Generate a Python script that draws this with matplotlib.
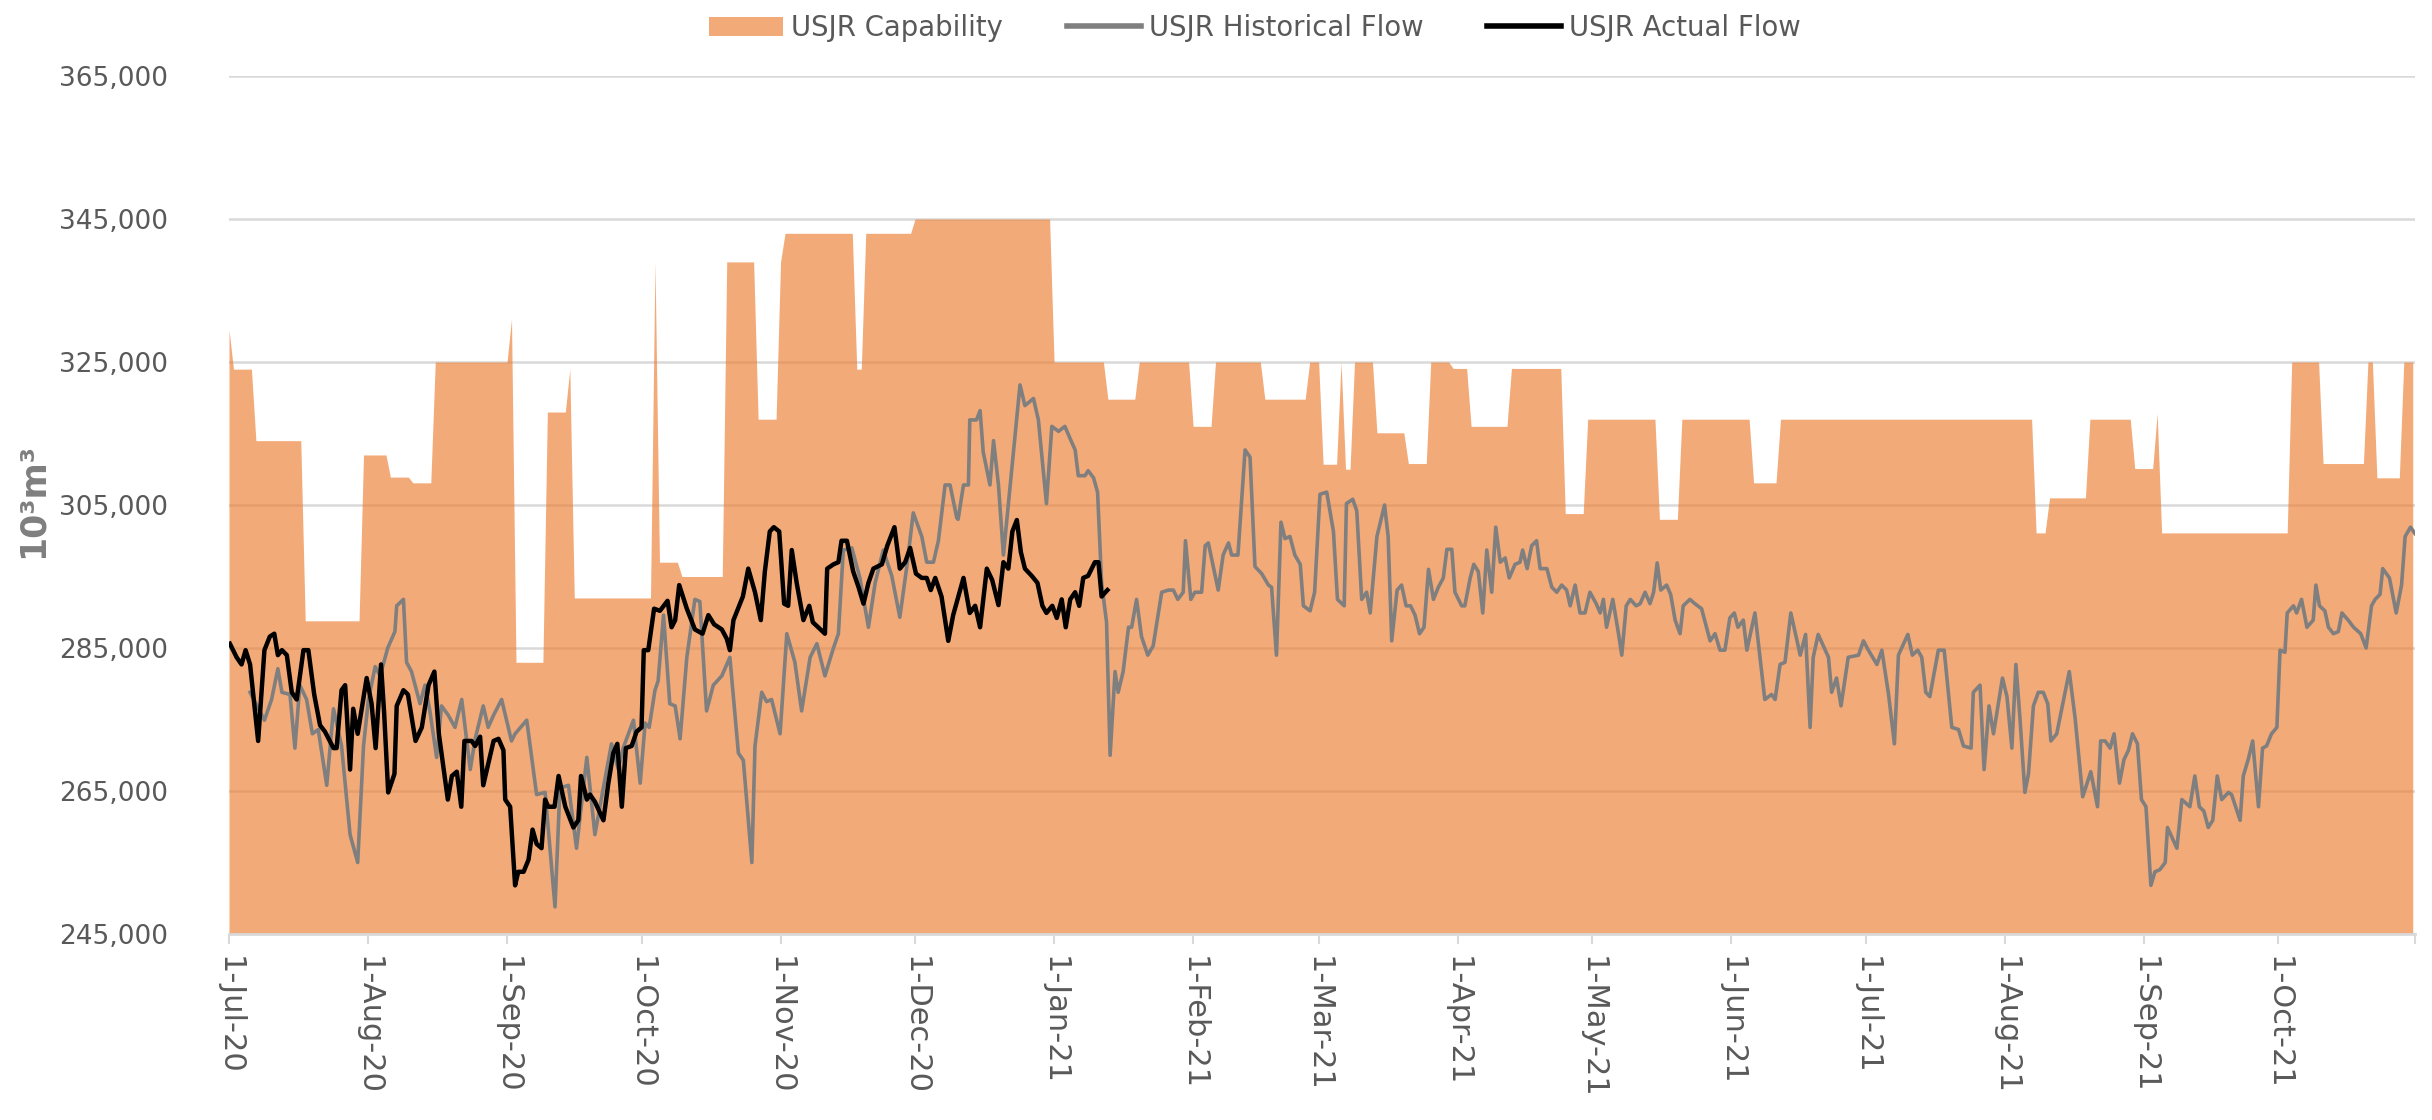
import numpy as np
import pandas as pd
import matplotlib
matplotlib.use('Agg')
import matplotlib.pyplot as plt
import matplotlib.dates as mdates
from matplotlib.ticker import FuncFormatter
from matplotlib.patches import Patch
from matplotlib.lines import Line2D

plt.rcParams['font.family'] = ['DejaVu Sans']

# all series are given as day offsets from 1-Jul-20, values in 10^3 m^3
start = pd.Timestamp('2020-07-01')
n_days = 487.5

cap_days = [0, 1, 5, 6, 16, 17, 29, 30, 35, 36, 40, 41, 45, 46, 62, 63, 64, 70, 71, 75,
            76, 77, 94, 95, 96, 100, 101, 110, 111, 117, 118, 122, 123, 124, 139, 140, 141, 142, 152, 153,
            183, 184, 195, 196, 202, 203, 214, 215, 219, 220, 230, 231, 240, 241, 243, 244, 247, 248, 249, 250,
            251, 255, 256, 262, 263, 267, 268, 272, 273, 276, 277, 285, 286, 297, 298, 302, 303, 318, 319, 323,
            324, 339, 340, 345, 346, 402, 403, 405, 406, 414, 415, 424, 425, 429, 430, 431, 459, 460, 466, 467,
            476, 477, 478, 479, 484, 485, 487]
cap_vals = [329500, 324000, 324000, 314000, 314000, 288800, 288800, 312000, 312000, 308900,
            308900, 308100, 308100, 325000, 325000, 331000, 283000, 283000, 318000, 318000,
            324000, 292000, 292000, 339000, 297000, 297000, 295000, 295000, 339000, 339000,
            317000, 317000, 339000, 343000, 343000, 324000, 324000, 343000, 343000, 345000,
            345000, 325000, 325000, 319800, 319800, 325000, 325000, 316000, 316000, 325000,
            325000, 319800, 319800, 325000, 325000, 310700, 310700, 325000, 310000, 310000,
            325000, 325000, 315100, 315100, 310800, 310800, 325000, 325000, 324100, 324100,
            316000, 316000, 324100, 324100, 303800, 303800, 317000, 317000, 303000, 303000,
            317000, 317000, 308100, 308100, 317000, 317000, 301100, 301100, 306000, 306000,
            317000, 317000, 310100, 310100, 317800, 301100, 301100, 325000, 325000, 310800,
            310800, 325000, 325000, 308800, 308800, 325000, 325000]

hist_days = [4.7, 7.9, 9.5, 10.9, 11.8, 13.6, 14.7, 15.8, 17.3, 18.6, 19.9, 21.8, 23.3, 25.1, 27.0,
             28.7, 30.0, 31.1, 32.6, 33.7, 35.4, 37.0, 37.4, 38.9, 39.6, 40.7, 42.6, 43.7, 44.8, 46.3,
             47.4, 48.9, 50.4, 51.9, 53.8, 54.9, 56.7, 57.8, 59.0, 60.8, 63.0, 63.8, 66.4, 68.6, 70.5,
             72.7, 73.8, 75.7, 77.5, 79.8, 81.6, 83.5, 85.3, 86.8, 87.9, 90.2, 91.7, 92.8, 93.7, 95.0,
             95.7, 96.9, 98.3, 99.5, 100.6, 102.1, 103.9, 105.0, 106.5, 108.0, 109.9, 111.7, 113.6, 114.7, 116.6,
             117.3, 118.8, 119.9, 121.0, 122.9, 124.4, 126.2, 127.7, 129.6, 131.1, 132.9, 134.8, 135.9, 137.0,
             138.9, 140.7, 142.6, 144.1, 145.9, 147.8, 149.6, 151.1, 152.6, 154.5, 155.6, 157.1, 158.2, 159.7,
             160.8, 162.3, 162.6, 163.8, 164.9, 165.2, 166.7, 167.5, 168.2, 169.7, 170.5, 171.6, 172.7, 176.4,
             177.5, 179.4, 180.5, 182.3, 183.5, 185.0, 186.4, 187.5, 188.7, 189.4, 190.9, 191.6, 192.8, 193.7,
             194.6, 195.7, 196.5, 197.6, 198.3, 199.4, 200.6, 201.3, 202.4, 203.5, 204.9, 206.1, 208.0, 209.5,
             210.6, 211.6, 212.8, 213.3, 214.5, 215.4, 216.9, 217.7, 218.4, 220.6, 221.7, 222.9, 223.6, 225.0,
             226.6, 227.7, 228.8, 230.3, 231.8, 232.5, 233.6, 234.6, 235.5, 236.6, 237.7, 238.9, 239.6, 241.1,
             242.1, 243.3, 244.8, 246.3, 247.2, 248.7, 249.2, 250.6, 251.5, 252.6, 253.7, 254.5, 256.0, 257.7,
             258.5, 259.3, 260.5, 261.5, 262.5, 263.5, 264.5, 265.5, 266.5, 267.5, 268.6, 269.7, 270.8, 271.6,
             272.7, 273.4, 274.9, 275.6, 276.8, 277.6, 278.6, 279.6, 280.5, 281.6, 282.5, 283.5, 284.6, 285.5,
             286.8, 287.9, 288.5, 289.5, 290.5, 291.6, 292.4, 293.9, 295.0, 296.1, 297.2, 298.3, 299.1, 300.2,
             301.3, 302.4, 303.5, 304.9, 305.8, 306.5, 307.2, 308.6, 309.8, 310.6, 311.6, 312.5, 313.8, 314.7,
             315.8, 316.9, 317.7, 318.5, 319.3, 320.6, 321.5, 322.5, 323.6, 324.3, 325.8, 326.9, 328.4, 330.3,
             331.4, 332.5, 333.6, 334.7, 335.7, 336.5, 337.7, 338.5, 340.3, 342.5, 344.0, 344.8, 345.9, 347.0,
             348.3, 350.4, 351.6, 352.6, 353.3, 354.4, 356.7, 357.4, 358.5, 359.5, 361.1, 363.4, 364.5, 365.6,
             367.5, 368.6, 370.1, 371.4, 372.3, 374.4, 375.4, 376.6, 377.5, 378.4, 379.3, 381.2, 382.5, 384.2,
             385.7, 386.8, 388.5, 389.0, 390.5, 391.4, 392.5, 393.5, 395.5, 396.5, 397.6, 398.5, 399.4, 400.5,
             401.3, 402.4, 403.5, 404.6, 405.6, 406.3, 407.6, 410.4, 411.7, 413.4, 415.2, 416.7, 417.4, 418.4,
             419.5, 420.4, 421.6, 422.6, 423.6, 424.5, 425.6, 426.5, 427.5, 428.6, 429.5, 430.6, 431.8, 432.3,
             434.4, 435.5, 437.3, 438.4, 439.4, 440.4, 441.4, 442.4, 443.4, 444.4, 445.9, 446.6, 448.5, 449.2,
             450.3, 451.3, 452.6, 453.5, 454.4, 455.5, 456.7, 457.4, 458.5, 459.0, 460.4, 461.1, 462.2, 463.4,
             464.8, 465.4, 466.2, 467.4, 468.2, 469.3, 470.4, 471.2, 472.6, 473.8, 475.4, 476.6, 477.8, 478.6,
             479.7, 480.3, 481.8, 483.3, 484.5, 485.3, 486.5, 487.5]
hist_vals = [278800, 274900, 277800, 282100, 278800, 278500, 271000, 279800, 277800, 273000, 273600, 265800, 276500, 271300, 258900,
             255000, 271300, 277800, 282400, 281100, 285000, 287300, 290900, 291800, 283000, 281700, 277200, 279800, 276200, 269700,
             276900, 275600, 273900, 277800, 268000, 272300, 276900, 273900, 275600, 277800, 272000, 273000, 274900, 264500, 264800,
             248800, 265400, 265800, 257000, 269700, 258900, 265500, 271600, 268100, 271000, 274900, 266100, 274500, 273900, 279100,
             280400, 289600, 277200, 276900, 272300, 283700, 291800, 291500, 276200, 279800, 281100, 283700, 270300, 269300, 255000,
             271300, 278800, 277500, 277800, 273000, 287000, 283000, 276200, 283700, 285600, 281100, 285000, 287000, 298700,
             299000, 294800, 287900, 294100, 298700, 295100, 289300, 296100, 303900, 300600, 297000, 297000, 300000, 307800,
             307800, 303200, 303000, 307800, 307800, 316900, 316900, 318200, 312400, 307800, 314000, 307800, 298000, 321800,
             318900, 319900, 316900, 305200, 316000, 315300, 316000, 314400, 312700, 309100, 309100, 309800, 308800, 306800,
             294100, 288600, 270000, 281700, 278800, 281700, 287900, 287900, 291800, 286600, 284000, 285300, 292800, 293100,
             293100, 291800, 292800, 300000, 291800, 292800, 292800, 299300, 299700, 293100, 298000, 299700, 298000, 298000,
             312700, 311700, 296400, 295400, 293800, 293500, 284000, 302600, 300300, 300600, 298000, 296700, 290900, 290200,
             292800, 306500, 306800, 301300, 291800, 290900, 305200, 305800, 304200, 291800, 292800, 289900, 300600, 305000,
             300600, 286000, 293100, 293800, 290900, 290900, 289600, 287000, 287900, 296000, 291800, 293500, 294800, 298800,
             298800, 292800, 290900, 290900, 294800, 296700, 295700, 289900, 298700, 292800, 301900, 297000, 297600, 294800,
             296700, 297000, 298700, 296100, 299300, 300000, 296100, 296100, 293500, 292800, 293800, 293100, 290900, 293800,
             289900, 289900, 292800, 291200, 289900, 291800, 287900, 291800, 287300, 284000, 290900, 291800, 290900, 291200,
             292800, 291200, 292800, 296900, 293100, 293800, 292500, 288900, 287000, 290900, 291800, 291200, 290500, 286000,
             287000, 284700, 284700, 289200, 289900, 287900, 288900, 284700, 289900, 277800, 278500, 277800, 282700, 283000,
             289900, 284000, 286900, 273900, 283700, 286900, 283700, 278800, 280800, 276900, 283700, 284000, 286000, 284700,
             282700, 284700, 278500, 271600, 284000, 286900, 284000, 284700, 283700, 278800, 278200, 284700, 284700, 273900,
             273600, 271300, 271000, 278800, 279800, 268000, 276900, 273000, 280800, 278200, 271000, 282700, 275200, 264800,
             267400, 276900, 278800, 278800, 277200, 272000, 273000, 281700, 275200, 264200, 267700, 262800, 272000, 272000,
             271000, 273000, 266100, 269400, 270700, 273000, 271600, 263800, 262800, 251800, 253700, 254000, 255000, 259900,
             257000, 263800, 262800, 267100, 262800, 262200, 259900, 260900, 267100, 263800, 264800, 264500, 260900, 267100,
             269400, 272000, 262800, 271000, 271300, 273000, 273900, 284700, 284400, 289900, 290900, 289900, 291800, 287900,
             288900, 293800, 290900, 290200, 287900, 287000, 287300, 289900, 288900, 287900, 287000, 285000, 290900, 291800,
             292500, 296100, 294800, 289900, 293800, 300600, 301900, 301000]

act_days = [0.2, 1.7, 2.8, 3.7, 4.7, 5.4, 6.5, 7.9, 9.1, 10.1, 10.9, 11.8, 12.9, 14.0, 15.1,
            16.6, 17.7, 19.0, 20.3, 21.4, 23.3, 24.0, 25.1, 25.9, 27.0, 27.7, 28.7, 30.7, 31.8, 32.7,
            33.9, 34.6, 35.5, 36.9, 37.4, 38.9, 39.9, 41.6, 43.0, 44.5, 45.8, 46.8, 48.8, 49.7, 50.8,
            51.8, 52.5, 54.1, 54.9, 56.0, 56.7, 59.0, 60.1, 61.2, 61.6, 62.7, 63.8, 64.5, 65.7, 66.8,
            67.7, 68.6, 69.7, 70.5, 71.2, 72.6, 73.5, 75.0, 76.8, 77.9, 78.5, 79.8, 80.5, 81.6, 83.5,
            84.6, 85.7, 86.6, 87.6, 88.5, 89.8, 90.9, 92.0, 92.5, 93.5, 94.8, 96.1, 97.8, 98.7, 99.5,
            100.4, 102.1, 103.9, 105.6, 106.9, 108.2, 109.9, 111.0, 111.7, 112.5, 114.6, 115.8, 117.3, 118.6, 119.5,
            120.6, 121.5, 122.7, 123.8, 124.7, 125.5, 126.6, 128.1, 129.4, 130.2, 131.4, 132.9, 133.4, 134.8, 135.9,
            136.6, 137.8, 139.2, 140.4, 141.5, 142.6, 143.7, 145.6, 146.8, 148.4, 149.6, 150.8, 151.9, 153.2, 154.5,
            155.6, 156.5, 157.5, 158.9, 160.4, 161.5, 163.8, 165.2, 166.4, 167.5, 169.0, 170.2, 171.6, 172.7, 173.8,
            174.7, 175.7, 176.6, 177.5, 179.0, 180.3, 181.4, 182.3, 183.6, 184.6, 185.7, 186.6, 187.6, 188.7, 189.6,
            190.5, 191.6, 193.1, 193.9, 194.6, 195.9]
act_vals = [285600, 283700, 282700, 284700, 282700, 278500, 272000, 284700, 286600, 287000, 284000, 284700, 284000, 278800, 277800,
            284700, 284700, 278500, 274200, 273300, 271000, 271000, 279100, 279800, 268000, 276500, 273000, 280800, 277200, 271000,
            282700, 275900, 264800, 267400, 276900, 279100, 278500, 272000, 273900, 279800, 281700, 273000, 263800, 267100, 267700,
            262800, 272000, 272000, 271300, 272600, 265800, 272000, 272300, 270700, 263800, 262800, 251800, 253700, 253700, 255400,
            259600, 257600, 257000, 263800, 262800, 262800, 267100, 262800, 259900, 260900, 267100, 263800, 264500, 263500, 260900,
            266100, 270300, 271600, 262800, 271000, 271300, 273300, 273900, 284700, 284700, 290500, 290200, 291600, 287900, 288900,
            293800, 290500, 287600, 287000, 289600, 288300, 287600, 286300, 284700, 288900, 292200, 296100, 292800, 288900, 295700,
            301300, 301900, 301300, 291200, 290900, 298700, 294100, 288900, 290900, 288600, 287900, 287000, 296100, 296700, 297000,
            300000, 300000, 295700, 293500, 291200, 294100, 296100, 296700, 299300, 301900, 296100, 297000, 299000, 295400, 294800,
            294800, 293100, 294800, 292200, 286000, 289600, 294800, 289900, 290900, 287900, 296100, 294500, 291000, 297000, 296100,
            301300, 302900, 298400, 296100, 295100, 294100, 290900, 289900, 290900, 289200, 291800, 287900, 291800, 292800, 290900,
            294800, 295100, 297000, 297000, 292200, 293100]

legend_labels = ['USJR Capability', 'USJR Historical Flow', 'USJR Actual Flow']
y_ticks = [245000, 265000, 285000, 305000, 325000, 345000, 365000]


def to_dates(days):
    return start + pd.to_timedelta(np.array(days), unit='D')


orange = '#ED7D31'
text_col = '#595959'
grid_col = '#D9D9D9'

W, H = 2432, 1120
fig = plt.figure(figsize=(W / 100, H / 100), dpi=100)
ax = fig.add_axes([229 / W, 1 - 934 / H, (2415 - 229) / W, (934 - 76) / H])

ax.fill_between(to_dates(cap_days), cap_vals, y_ticks[0], color=orange, alpha=0.65, lw=0, zorder=1)
ax.plot(to_dates(hist_days), hist_vals, color='#7F7F7F', lw=2.6, solid_joinstyle='round', zorder=2)
ax.plot(to_dates(act_days), act_vals, color='black', lw=3.2, solid_joinstyle='round', zorder=3)

x_end = start + pd.Timedelta(days=n_days)
ax.set_xlim(start, x_end)
ax.set_ylim(y_ticks[0], y_ticks[-1])
ax.set_yticks(y_ticks)
ax.yaxis.set_major_formatter(FuncFormatter(lambda v, p: '{:,}'.format(int(v))))

ax.xaxis.set_major_locator(mdates.MonthLocator())
ax.xaxis.set_major_formatter(FuncFormatter(
    lambda v, p: '{}-{}'.format(mdates.num2date(v).day, mdates.num2date(v).strftime('%b-%y'))))
ax.set_xticks([mdates.date2num(x_end)], minor=True)

ax.set_axisbelow(True)
ax.yaxis.grid(True, color=grid_col, lw=1.8)
for s in ['top', 'right', 'left']:
    ax.spines[s].set_visible(False)
ax.spines['bottom'].set_color(grid_col)
ax.spines['bottom'].set_linewidth(2)

ax.tick_params(axis='x', which='both', direction='out', length=7, width=1.5, color=grid_col,
               pad=9, labelsize=22, labelcolor=text_col, labelrotation=270)
ax.tick_params(axis='y', length=0, pad=44, labelsize=19, labelcolor=text_col)
for lab in ax.get_xticklabels():
    lab.set_horizontalalignment('center')
    lab.set_verticalalignment('top')

fig.text(33 / W, 1 - 500 / H, '10³m³', rotation=90, ha='center', va='center',
         fontsize=25, fontweight='bold', color='#7F7F7F')

handles = [Patch(facecolor=orange, alpha=0.65, lw=0),
           Line2D([], [], color='#7F7F7F', lw=4),
           Line2D([], [], color='black', lw=4)]
fig.legend(handles, legend_labels, loc='center', bbox_to_anchor=(1255 / W, 1 - 28 / H), ncol=3,
           frameon=False, fontsize=19.8, handlelength=2.7, handletextpad=0.3, columnspacing=2.3,
           labelcolor=text_col)

fig.savefig('out.png', dpi=100)
